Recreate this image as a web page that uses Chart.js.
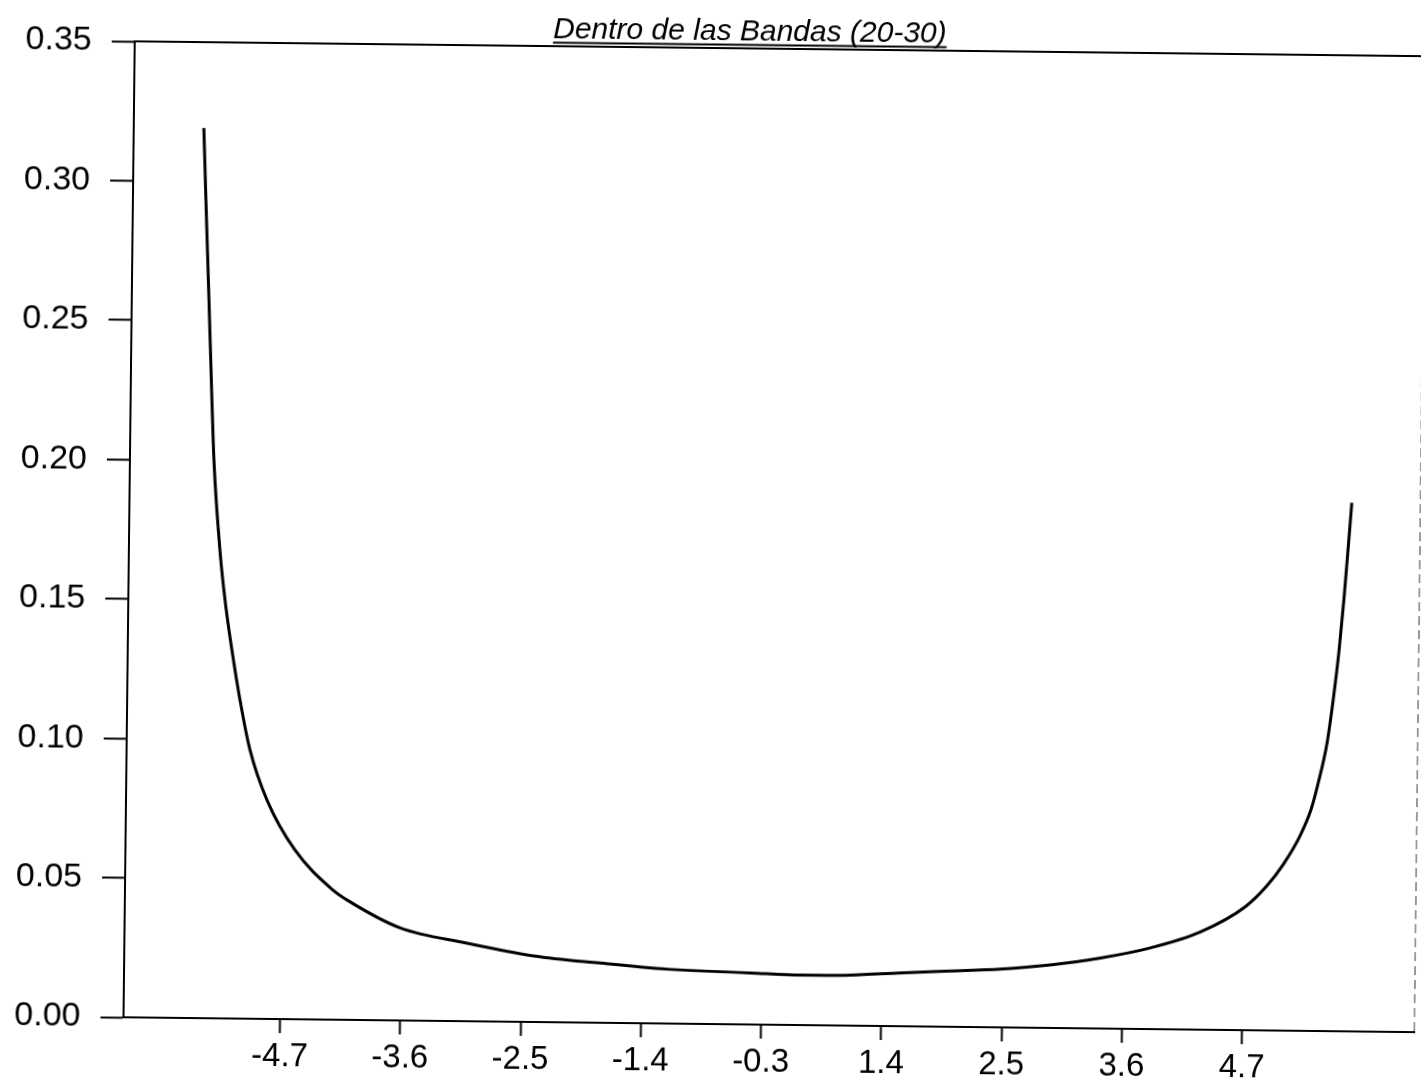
<!DOCTYPE html>
<html>
<head>
<meta charset="utf-8">
<script src="https://cdn.jsdelivr.net/npm/chart.js@4/dist/chart.umd.min.js"></script>
<style>
  html, body { margin: 0; padding: 0; background: #fff; overflow: hidden; }
  #wrap { width: 1421px; height: 1086px; transform: rotate(0.66deg); transform-origin: 710px 543px; }
</style>
</head>
<body>
<div id="wrap"><canvas id="bandsChart" width="1421" height="1086"></canvas></div>
<script>
// tick labels along the bottom, one per evenly spaced tick
const xLabels = ['-4.7', '-3.6', '-2.5', '-1.4', '-0.3', '1.4', '2.5', '3.6', '4.7'];
const yTicks = [0, 0.05, 0.10, 0.15, 0.20, 0.25, 0.30, 0.35];

// curve, x in tick-index units
const curveX = [-0.718, -0.694, -0.659, -0.625, -0.602, -0.544, -0.497, -0.435, -0.363, -0.275,
    -0.129, 0.108, 0.428, 0.553, 0.989, 1.548, 2.106, 2.657, 3.214, 3.904,
    4.320, 4.736, 5.150, 5.566, 5.982, 6.398, 6.817, 7.228, 7.642, 8.013,
    8.195, 8.325, 8.464, 8.553, 8.609, 8.679, 8.725, 8.770, 8.805, 8.835, 8.862];
const curveY = [0.3192, 0.2934, 0.2576, 0.2217, 0.1999, 0.1680, 0.1501, 0.1322, 0.1143, 0.0964,
    0.0785, 0.0607, 0.0465, 0.0428, 0.0332, 0.0280, 0.0237, 0.0214, 0.0195, 0.0185,
    0.0179, 0.0181, 0.0191, 0.0200, 0.0209, 0.0226, 0.0253, 0.0291, 0.0350, 0.0442,
    0.0520, 0.0595, 0.0700, 0.0795, 0.0889, 0.1033, 0.1185, 0.1365, 0.1546, 0.1727, 0.1896];

const titleText = 'Dentro de las Bandas (20-30)';
const fontFamily = '"Liberation Sans", Arial, sans-serif';

const frame = {
    id: 'frame',
    afterDraw(chart) {
        const { ctx, chartArea: a } = chart;
        ctx.save();
        ctx.strokeStyle = '#000';
        ctx.lineWidth = 2;
        ctx.beginPath();
        ctx.moveTo(a.left, a.top);
        ctx.lineTo(a.right + 2, a.top);
        ctx.stroke();
        ctx.strokeStyle = 'rgba(0,0,0,0.55)';
        ctx.lineWidth = 1.5;
        ctx.setLineDash([9, 5]);
        ctx.beginPath();
        ctx.moveTo(a.right, a.top);
        ctx.lineTo(a.right, a.bottom);
        ctx.stroke();
        ctx.setLineDash([]);

        // title, italic and underlined
        ctx.font = 'italic 30px ' + fontFamily;
        ctx.fillStyle = '#000';
        ctx.textAlign = 'center';
        ctx.textBaseline = 'alphabetic';
        const cx = 744;
        ctx.fillText(titleText, cx, 39.5);
        const w = ctx.measureText(titleText).width;
        ctx.lineWidth = 2;
        ctx.strokeStyle = '#000';
        ctx.beginPath();
        ctx.moveTo(cx - w / 2, 44.5);
        ctx.lineTo(cx + w / 2, 44.5);
        ctx.stroke();
        ctx.restore();
    }
};

new Chart(document.getElementById('bandsChart'), {
    type: 'scatter',
    data: {
        datasets: [{
            data: curveX.map((x, i) => ({ x, y: curveY[i] })),
            showLine: true,
            borderColor: '#000',
            borderWidth: 3,
            pointRadius: 0,
            cubicInterpolationMode: 'monotone',
        }],
    },
    options: {
        responsive: false,
        animation: false,
        layout: { padding: { top: 48, right: 1, left: 0, bottom: 0 } },
        plugins: { legend: { display: false }, tooltip: { enabled: false } },
        scales: {
            x: {
                type: 'linear',
                min: -1.301,
                max: 9.433,
                afterBuildTicks: (scale) => { scale.ticks = xLabels.map((_, i) => ({ value: i })); },
                afterFit: (scale) => { scale.height = 62; },
                ticks: {
                    callback: (v) => xLabels[v],
                    color: '#000',
                    font: { family: fontFamily, size: 33 },
                    padding: 4,
                    maxRotation: 0,
                    autoSkip: false,
                },
                grid: { drawOnChartArea: false, drawTicks: true, tickLength: 14, tickWidth: 2, tickColor: '#000' },
                border: { display: true, color: '#000', width: 2 },
            },
            y: {
                min: 0,
                max: 0.35,
                afterBuildTicks: (scale) => { scale.ticks = yTicks.map((v) => ({ value: v })); },
                afterFit: (scale) => { scale.width = 129; },
                ticks: {
                    callback: (v) => v.toFixed(2),
                    color: '#000',
                    font: { family: fontFamily, size: 34 },
                    padding: 20,
                },
                grid: { drawOnChartArea: false, drawTicks: true, tickLength: 23, tickWidth: 2, tickColor: '#000' },
                border: { display: true, color: '#000', width: 2 },
            },
        },
    },
    plugins: [frame],
});
</script>
</body>
</html>
